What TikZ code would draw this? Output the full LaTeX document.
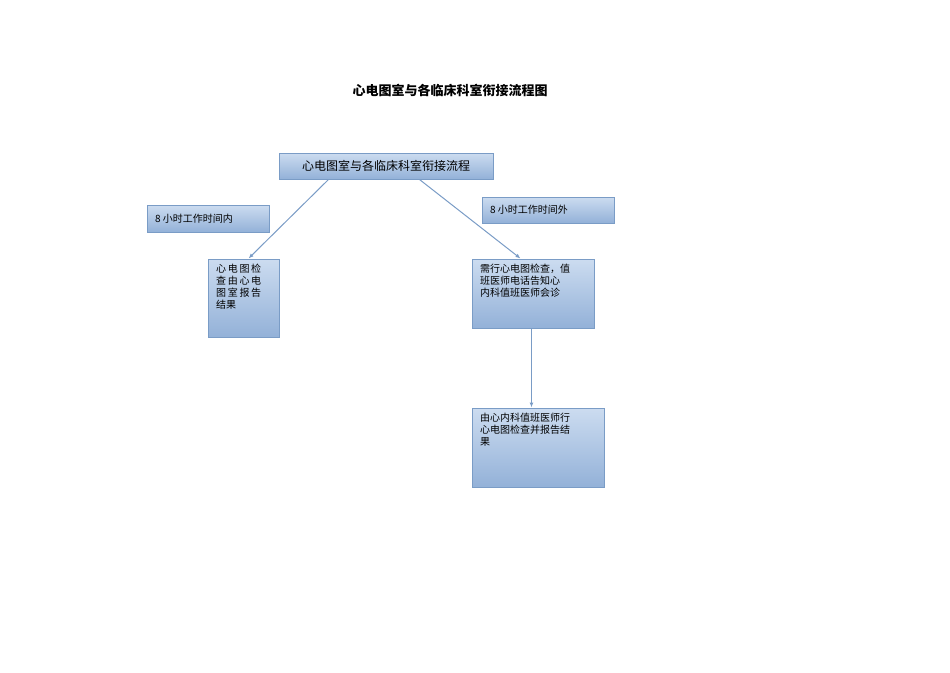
\documentclass[tikz,border=0pt]{standalone}
\usepackage{fontspec}
\newfontfamily\cjk{Noto Sans CJK SC}
\usetikzlibrary{calc,arrows.meta}
\definecolor{bordc}{HTML}{7A9CC6}
\definecolor{topc}{HTML}{CCDCF0}
\definecolor{botc}{HTML}{93B1D8}
\begin{document}
\begin{tikzpicture}[x=1pt,y=-1pt,
  bx/.style={draw=bordc,line width=1pt,top color=topc,bottom color=botc,inner sep=0pt},
  tx/.style={font=\cjk\fontsize{10}{12}\selectfont,align=left,anchor=north west,inner sep=0pt},
  conn/.style={draw=bordc,line width=1pt,-{Latex[length=5pt,width=4pt]}}]
\useasboundingbox (0,0) rectangle (950,672);
\node[font=\cjk\bfseries\fontsize{13}{15}\selectfont] (title) at (450,90) {心电图室与各临床科室衔接流程图};
\node[bx,minimum width=214,minimum height=26] (main) at (386,166) {};
\node[font=\cjk\fontsize{12}{14}\selectfont] at (main) {心电图室与各临床科室衔接流程};
\node[bx,minimum width=122,minimum height=27] (ll) at (208,218.5) {};
\node[tx,anchor=west] at (155,218.5) {8 小时工作时间内};
\node[bx,minimum width=132,minimum height=26] (rl) at (548,210) {};
\node[tx,anchor=west] at (490,210) {8 小时工作时间外};
\node[bx,minimum width=71,minimum height=78] (lb) at (243.5,298) {};
\node[tx] at (216,264) {心\,电\,图\,检\\查\,由\,心\,电\\图\,室\,报\,告\\结果};
\node[bx,minimum width=122,minimum height=69] (rb1) at (533,293.5) {};
\node[tx] at (480,264) {需行心电图检查，值\\班医师电话告知心\\内科值班医师会诊};
\node[bx,minimum width=132,minimum height=79] (rb2) at (538,447.5) {};
\node[tx] at (480,413) {由心内科值班医师行\\心电图检查并报告结\\果};
\coordinate (a1) at ($(main.south west)+(50,0)$);
\coordinate (a2) at ($(lb.north west)+(41,0)$);
\coordinate (b1) at ($(main.south west)+(141,0)$);
\coordinate (b2) at ($(rb1.north west)+(49,0)$);
\coordinate (c1) at ($(rb1.south west)+(60,0)$);
\coordinate (c2) at ($(rb2.north west)+(60,0)$);
\draw[conn] (a1) -- (a2);
\draw[conn] (b1) -- (b2);
\draw[conn] (c1) -- (c2);
\end{tikzpicture}
\end{document}
